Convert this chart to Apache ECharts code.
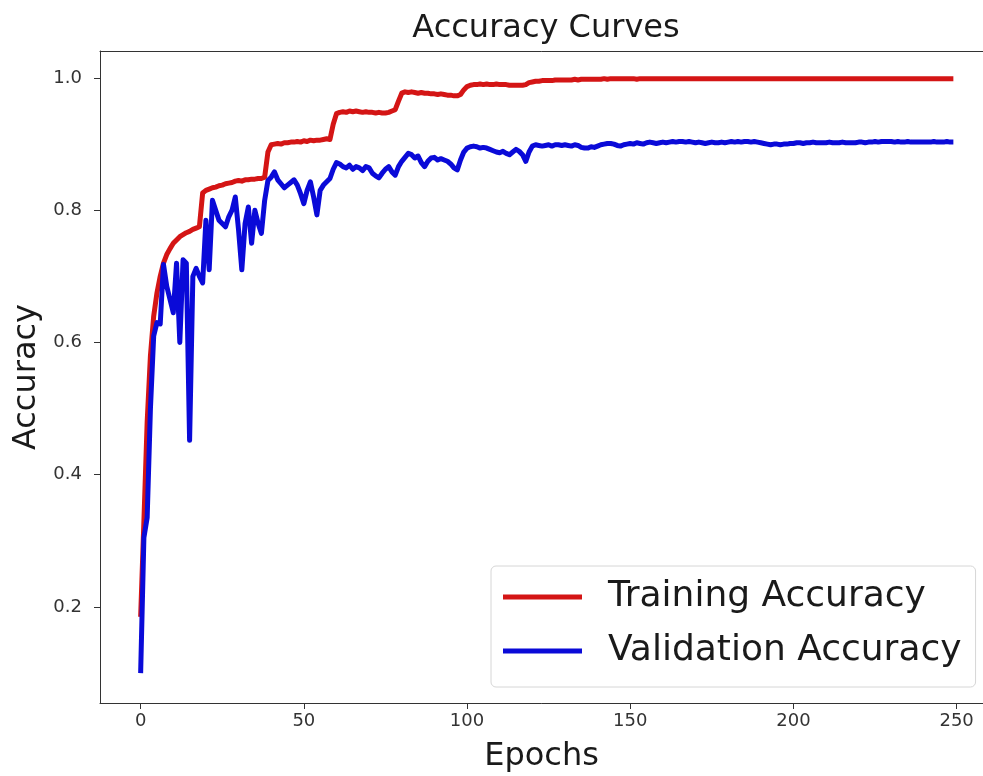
<!DOCTYPE html>
<html>
<head>
<meta charset="utf-8">
<script src="https://cdn.jsdelivr.net/npm/echarts@6/dist/echarts.min.js"></script>
<style>
html,body{margin:0;padding:0;background:#fff;overflow:hidden;}
#chart{width:983px;height:776px;}
</style>
</head>
<body>
<div id="chart"></div>
<script>
// Chart text
const chartTitle = 'Accuracy Curves';
const xAxisName = 'Epochs';
const yAxisName = 'Accuracy';
const seriesNames = ['Training Accuracy', 'Validation Accuracy'];
const xTicks = [0, 50, 100, 150, 200, 250];
const yTicks = [0.2, 0.4, 0.6, 0.8, 1.0];

// Training accuracy per epoch (epochs 0..249)
const trainAcc = [
  0.185,0.330,0.480,0.580,0.640,0.675,0.700,0.720,0.733,0.742,
  0.750,0.755,0.760,0.763,0.766,0.768,0.771,0.773,0.775,0.826,
  0.830,0.832,0.834,0.835,0.837,0.838,0.840,0.841,0.842,0.844,
  0.845,0.844,0.846,0.846,0.847,0.847,0.848,0.848,0.850,0.888,
  0.899,0.900,0.901,0.900,0.902,0.902,0.903,0.903,0.904,0.903,
  0.905,0.904,0.906,0.905,0.906,0.906,0.907,0.908,0.907,0.930,
  0.946,0.948,0.949,0.948,0.950,0.949,0.950,0.949,0.948,0.949,
  0.948,0.948,0.947,0.948,0.947,0.947,0.948,0.950,0.952,0.965,
  0.977,0.979,0.978,0.979,0.978,0.977,0.978,0.977,0.977,0.976,
  0.976,0.975,0.976,0.975,0.974,0.974,0.973,0.973,0.975,0.982,
  0.987,0.989,0.990,0.990,0.991,0.990,0.991,0.990,0.990,0.991,
  0.990,0.990,0.990,0.989,0.989,0.989,0.989,0.989,0.990,0.993,
  0.994,0.995,0.995,0.996,0.996,0.996,0.996,0.997,0.997,0.997,
  0.997,0.997,0.997,0.998,0.997,0.998,0.998,0.998,0.998,0.998,
  0.998,0.998,0.999,0.998,0.999,0.999,0.999,0.999,0.999,0.999,
  0.999,0.999,0.998,0.999,0.999,0.999,0.999,0.999,0.999,0.999,
  0.999,0.999,0.999,0.999,0.999,0.999,0.999,0.999,0.999,0.999,
  0.999,0.999,0.999,0.999,0.999,0.999,0.999,0.999,0.999,0.999,
  0.999,0.999,0.999,0.999,0.999,0.999,0.999,0.999,0.999,0.999,
  0.999,0.999,0.999,0.999,0.999,0.999,0.999,0.999,0.999,0.999,
  0.999,0.999,0.999,0.999,0.999,0.999,0.999,0.999,0.999,0.999,
  0.999,0.999,0.999,0.999,0.999,0.999,0.999,0.999,0.999,0.999,
  0.999,0.999,0.999,0.999,0.999,0.999,0.999,0.999,0.999,0.999,
  0.999,0.999,0.999,0.999,0.999,0.999,0.999,0.999,0.999,0.999,
  0.999,0.999,0.999,0.999,0.999,0.999,0.999,0.999,0.999,0.999
];

// Validation accuracy per epoch (epochs 0..249)
const valAcc = [
  0.100,0.305,0.335,0.500,0.610,0.630,0.628,0.718,0.685,0.665,
  0.645,0.720,0.600,0.725,0.720,0.452,0.700,0.712,0.700,0.690,
  0.785,0.710,0.815,0.800,0.785,0.780,0.775,0.790,0.800,0.820,
  0.770,0.710,0.780,0.805,0.750,0.800,0.780,0.765,0.815,0.845,
  0.850,0.858,0.846,0.840,0.834,0.838,0.842,0.846,0.838,0.825,
  0.810,0.830,0.843,0.820,0.793,0.830,0.838,0.843,0.848,0.862,
  0.872,0.870,0.866,0.864,0.868,0.862,0.866,0.864,0.860,0.866,
  0.864,0.856,0.852,0.849,0.856,0.862,0.866,0.858,0.853,0.866,
  0.874,0.880,0.886,0.884,0.879,0.882,0.872,0.866,0.874,0.879,
  0.880,0.876,0.878,0.876,0.874,0.870,0.864,0.861,0.876,0.888,
  0.894,0.896,0.897,0.896,0.894,0.895,0.894,0.892,0.890,0.888,
  0.887,0.889,0.886,0.884,0.888,0.892,0.889,0.884,0.874,0.888,
  0.897,0.899,0.898,0.897,0.898,0.899,0.897,0.899,0.899,0.898,
  0.899,0.898,0.897,0.899,0.898,0.895,0.894,0.894,0.896,0.895,
  0.897,0.899,0.900,0.901,0.901,0.900,0.898,0.897,0.899,0.900,
  0.901,0.900,0.902,0.901,0.900,0.902,0.903,0.902,0.901,0.902,
  0.903,0.902,0.903,0.904,0.903,0.904,0.904,0.903,0.904,0.903,
  0.902,0.903,0.902,0.901,0.902,0.903,0.902,0.902,0.903,0.902,
  0.903,0.904,0.903,0.904,0.903,0.904,0.904,0.903,0.904,0.903,
  0.902,0.901,0.900,0.899,0.900,0.900,0.899,0.900,0.900,0.901,
  0.901,0.902,0.902,0.901,0.902,0.902,0.903,0.902,0.902,0.902,
  0.902,0.903,0.902,0.902,0.902,0.903,0.902,0.902,0.902,0.902,
  0.903,0.903,0.902,0.903,0.903,0.904,0.903,0.904,0.904,0.904,
  0.904,0.903,0.904,0.903,0.903,0.904,0.903,0.903,0.903,0.903,
  0.903,0.903,0.903,0.904,0.903,0.903,0.903,0.904,0.903,0.903
];

const FONT = 'DejaVu Sans';
const toPairs = arr => arr.map((v, i) => [i, v]);
const X_MIN = -12.45, X_MAX = 261.45;

const chart = echarts.init(document.getElementById('chart'), null, {renderer: 'canvas'});
chart.setOption({
  backgroundColor: '#ffffff',
  animation: false,
  title: {
    text: chartTitle,
    left: 541, top: 8, textAlign: 'center',
    textStyle: {fontFamily: FONT, fontSize: 32, fontWeight: 'normal', color: '#1a1a1a'}
  },
  grid: {
    left: 100, width: 894, top: 51, height: 652,
    outerBoundsMode: 'none', containLabel: false, show: false
  },
  legend: {
    orient: 'vertical',
    left: 491, top: 566,
    padding: [11, 14, 16, 12],
    itemWidth: 79, itemHeight: 5, itemGap: 14,
    icon: 'rect',
    backgroundColor: 'rgba(255,255,255,0.85)',
    borderColor: '#d6d6d6', borderWidth: 1, borderRadius: 5,
    textStyle: {fontFamily: FONT, fontSize: 36, color: '#1a1a1a', lineHeight: 40, padding: [0, 0, 0, 21]},
    data: seriesNames
  },
  xAxis: [
    {
      type: 'value', min: X_MIN, max: X_MAX, position: 'bottom',
      name: xAxisName, nameLocation: 'middle', nameGap: 38,
      nameTextStyle: {fontFamily: FONT, fontSize: 32, color: '#1a1a1a', padding: [0, 11, 0, 0]},
      axisLine: {show: true, onZero: false, lineStyle: {color: '#333', width: 1}},
      axisTick: {show: true, length: 6, customValues: xTicks, lineStyle: {color: '#333'}},
      axisLabel: {customValues: xTicks, margin: 9, fontFamily: FONT, fontSize: 18, color: '#333'},
      splitLine: {show: false}
    },
    {
      type: 'value', min: X_MIN, max: X_MAX, position: 'top',
      axisLine: {show: true, onZero: false, lineStyle: {color: '#333', width: 1}},
      axisTick: {show: false}, axisLabel: {show: false}, splitLine: {show: false}
    }
  ],
  yAxis: {
    type: 'value', min: 0.0548, max: 1.0408,
    name: yAxisName, nameLocation: 'middle', nameGap: 53, nameRotate: 90,
    nameTextStyle: {fontFamily: FONT, fontSize: 32, color: '#1a1a1a'},
    axisLine: {show: true, onZero: false, lineStyle: {color: '#333', width: 1}},
    axisTick: {show: true, length: 6, customValues: yTicks, lineStyle: {color: '#333'}},
    axisLabel: {customValues: yTicks, margin: 18, fontFamily: FONT, fontSize: 18, color: '#333',
      formatter: v => v.toFixed(1)},
    splitLine: {show: false}
  },
  series: [
    {
      name: seriesNames[0], type: 'line', data: toPairs(trainAcc),
      showSymbol: false, symbol: 'none', z: 2,
      lineStyle: {color: '#d41515', width: 5, join: 'round'},
      itemStyle: {color: '#d41515'}
    },
    {
      name: seriesNames[1], type: 'line', data: toPairs(valAcc),
      showSymbol: false, symbol: 'none', z: 3,
      lineStyle: {color: '#0a0ad8', width: 5, join: 'round'},
      itemStyle: {color: '#0a0ad8'}
    }
  ]
});
</script>
</body>
</html>
